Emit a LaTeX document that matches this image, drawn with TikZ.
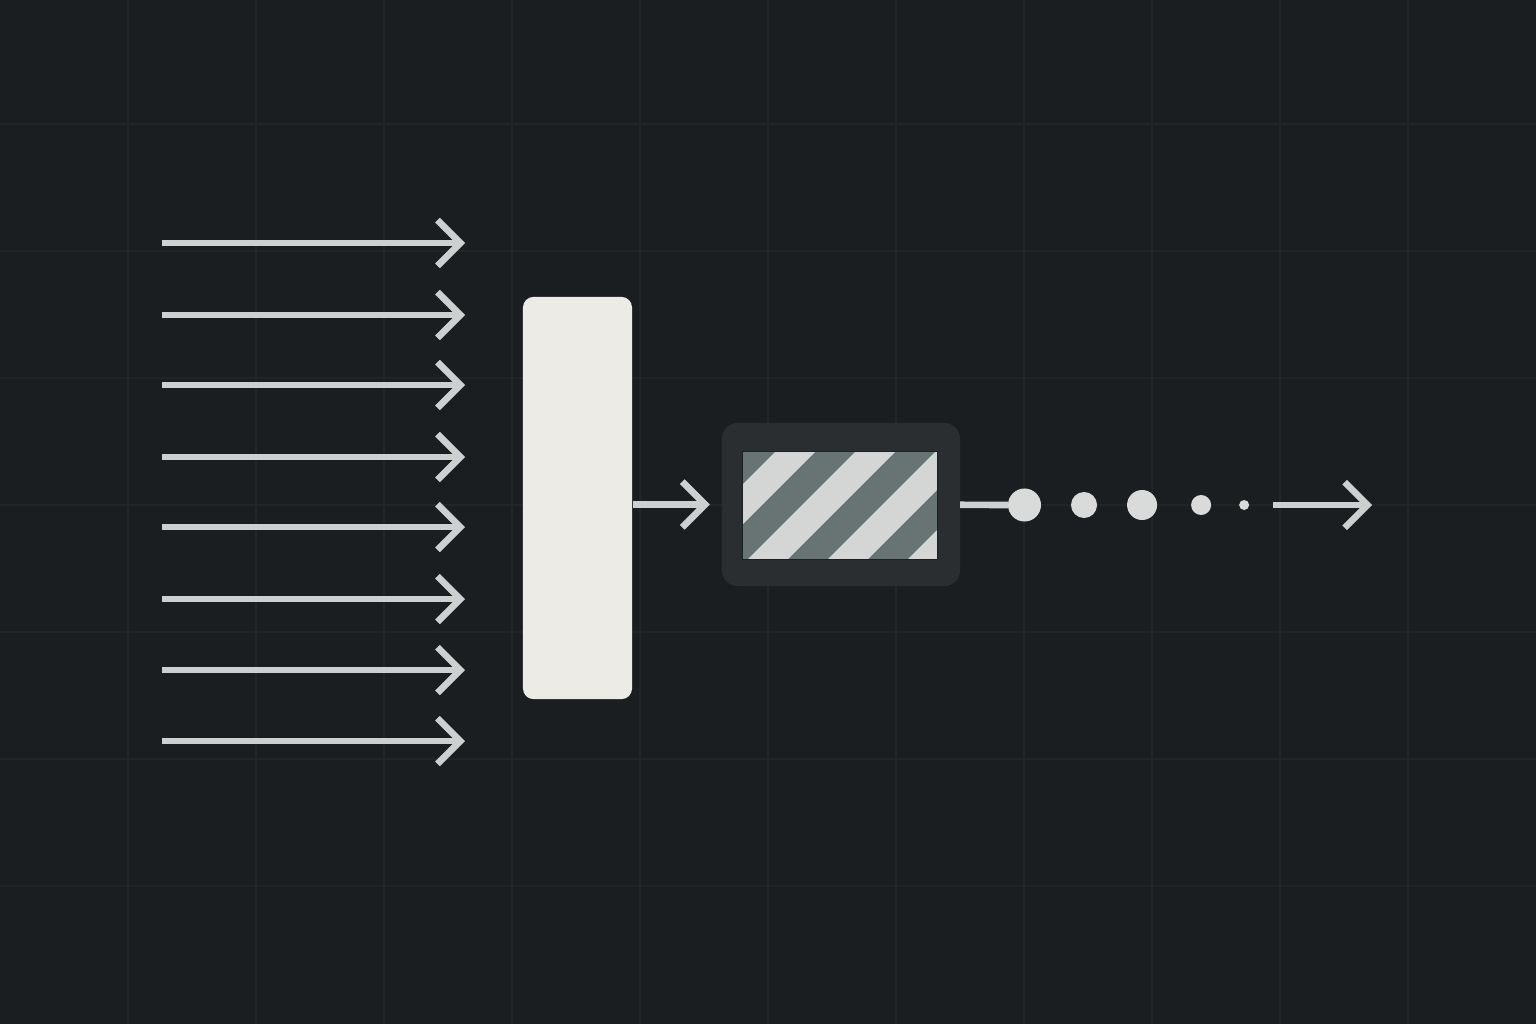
\documentclass[tikz,border=0pt]{standalone}
\usepackage{tikz}
\usetikzlibrary{arrows.meta,positioning}
\definecolor{bgcol}{HTML}{1B1E21}
\definecolor{gridcol}{HTML}{212528}
\definecolor{arrowcol}{HTML}{CDD0D1}
\definecolor{blockcol}{HTML}{ECEBE5}
\definecolor{framecol}{HTML}{2A2E31}
\definecolor{stripedark}{HTML}{687374}
\definecolor{stripelight}{HTML}{D3D6D5}
\definecolor{dotcol}{HTML}{D9DBDB}
\tikzset{%
        >={Straight Barb[length=6.5pt,width=13pt]},
        flow/.style = {draw = arrowcol, line width = 1.9pt},
        gridline/.style = {draw = gridcol, line width = 0.5pt},
        dot/.style = {circle, fill = dotcol, inner sep = 0pt, outer sep = 0pt}
}
\tikzstyle{block}=[
    rectangle,
    fill = blockcol,
    rounded corners = 3pt,
    minimum width = 1.09cm,
    minimum height = 4.02cm
]
\tikzstyle{frame}=[
    rectangle,
    fill = framecol,
    rounded corners = 4.5pt,
    minimum width = 2.38cm,
    minimum height = 1.63cm,
    outer sep = 0pt
]
\tikzstyle{panel}=[
    rectangle,
    fill = stripedark,
    minimum width = 1.94cm,
    minimum height = 1.07cm
]
\begin{document}
\begin{tikzpicture}[x=0.01cm, y=-0.01cm]
        \useasboundingbox[fill=bgcol] (0,0) rectangle (1536,1024);
        % faint grid
        \foreach \gx in {128,256,...,1408}
            \draw[gridline] (\gx,0) -- (\gx,1024);
        \foreach \gy in {124,251,378,505,632,759,886}
            \draw[gridline] (0,\gy) -- (1536,\gy);

        % inputs
        \foreach \y [count=\i] in {243,315,385,457,527,599,670,741} {
            \coordinate (src\i) at (162,\y);
            \coordinate (dst\i) at (465,\y);
            \draw[flow,->] (src\i) -- (dst\i);
        }

        \node[block] (mixer) at (577.5,498) {};
        \node[frame] (frame) at (841,504.5) {};
        \node[panel] (panel) at (840,505.5) {};
        \begin{scope}
            \clip (panel.south west) rectangle (panel.north east);
            \foreach \c in {1227,1307,1387,1467}
                \fill[stripelight] ({\c-440},440) -- ({\c+40-440},440)
                    -- ({\c+40-580},580) -- ({\c-580},580) -- cycle;
        \end{scope}
        \draw[framecol!70!black, line width=0.4pt] (panel.south west) rectangle (panel.north east);

        \draw[flow,->,shorten >=0.12cm] (mixer.east |- frame.west) -- (frame.west);

        % output trail
        \node[dot, minimum size=0.33cm] (d1) at (1024.5,505) {};
        \node[dot, minimum size=0.26cm] (d2) [right=0.3cm of d1] {};
        \node[dot, minimum size=0.30cm] (d3) [right=0.3cm of d2] {};
        \node[dot, minimum size=0.20cm] (d4) [right=0.34cm of d3] {};
        \node[dot, minimum size=0.10cm] (d5) [right=0.28cm of d4] {};
        \coordinate[right=0.24cm of d5] (tail);
        \coordinate[right=0.99cm of tail] (head);
        \draw[flow] (frame) -- (d1);
        \draw[flow,->] (tail) -- (head);
\end{tikzpicture}
\end{document}
